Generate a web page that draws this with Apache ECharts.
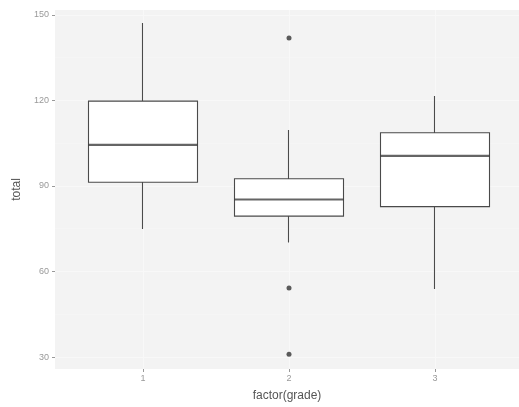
<!DOCTYPE html>
<html>
<head>
<meta charset="utf-8">
<script src="https://cdn.jsdelivr.net/npm/echarts@6/dist/echarts.min.js"></script>
<style>
  html, body { margin: 0; padding: 0; background: #fff; }
  #chart { width: 519px; height: 407px; }
</style>
</head>
<body>
<div id="chart"></div>
<script>
// Grades on the x axis
const grades = ['1', '2', '3'];
// Five-number summaries per grade
const lowerWhisker = [75.5, 70.8, 54.7];
const q1 = [91.8, 80, 83.3];
const median = [104.8, 85.8, 101];
const q3 = [120, 93, 109];
const upperWhisker = [147.2, 110, 121.8];
// Outlying points: [grade index, total]
const outlierGrade = [1, 1, 1];
const outlierTotal = [142, 55, 32];
// Tick labels
const yTicks = [30, 60, 90, 120, 150];
const yMinor = [45, 75, 105, 135];

const Y_MIN = 25.8, Y_MAX = 151.7;
const FONT = 'Liberation Sans';

// boxes drawn as candlesticks: [Q1, Q3, lower whisker, upper whisker]
const boxData = grades.map((g, i) => [q1[i], q3[i], lowerWhisker[i], upperWhisker[i]]);
const outlierData = outlierGrade.map((g, i) => [g, outlierTotal[i]]);
const medianData = grades.map((g, i) => [i, median[i]]);

const chart = echarts.init(document.getElementById('chart'), null, { renderer: 'canvas' });

chart.setOption({
  animation: false,
  backgroundColor: '#ffffff',
  grid: [
    // panel (background, gridlines, axes)
    { left: 55, right: 0, top: 10, bottom: 35, show: true, backgroundColor: '#f3f3f3', borderWidth: 0 },
    // boxes
    { left: 70, right: 11, top: 10, bottom: 35 }
  ],
  xAxis: [
    {
      gridIndex: 0, type: 'value', min: 0.397, max: 3.575,
      name: 'factor(grade)', nameLocation: 'middle', nameGap: 21,
      nameTextStyle: { fontFamily: FONT, fontSize: 12, color: '#555' },
      axisLine: { show: false },
      axisTick: { show: true, length: 3, customValues: [1, 2, 3], lineStyle: { color: '#999', width: 1 } },
      axisLabel: { customValues: [1, 2, 3], formatter: v => grades[Math.round(v) - 1], margin: 5,
        fontFamily: FONT, fontSize: 9, color: '#999' },
      splitLine: { show: true, lineStyle: { color: '#f8f8f8', width: 1 } }
    },
    {
      gridIndex: 1, type: 'category', data: grades, boundaryGap: true,
      axisLine: { show: false }, axisTick: { show: false }, axisLabel: { show: false },
      splitLine: { show: false }
    }
  ],
  yAxis: [
    {
      gridIndex: 0, type: 'value', min: Y_MIN, max: Y_MAX,
      name: 'total', nameLocation: 'middle', nameGap: 30, nameRotate: 90,
      nameTextStyle: { fontFamily: FONT, fontSize: 12, color: '#555' },
      axisLine: { show: false },
      axisTick: { show: true, length: 3, customValues: yTicks, lineStyle: { color: '#999', width: 1 } },
      axisLabel: { customValues: yTicks, margin: 6, fontFamily: FONT, fontSize: 9, color: '#999' },
      splitLine: { show: true, lineStyle: { color: '#f8f8f8', width: 1 } }
    },
    {
      gridIndex: 1, type: 'value', min: Y_MIN, max: Y_MAX,
      axisLine: { show: false }, axisTick: { show: false }, axisLabel: { show: false },
      splitLine: { show: false }
    },
    {
      // minor gridlines
      gridIndex: 0, type: 'value', min: Y_MIN, max: Y_MAX,
      axisLine: { show: false },
      axisTick: { show: false, customValues: yMinor },
      axisLabel: { show: false, customValues: yMinor },
      splitLine: { show: true, lineStyle: { color: '#f6f6f6', width: 0.6 } }
    }
  ],
  series: [
    {
      type: 'candlestick',
      xAxisIndex: 1, yAxisIndex: 1,
      data: boxData,
      barWidth: '75%',
      itemStyle: {
        color: '#ffffff', color0: '#ffffff',
        borderColor: '#4a4a4a', borderColor0: '#4a4a4a', borderWidth: 1.1
      },
      emphasis: { disabled: true }
    },
    {
      // thicker median bar
      type: 'scatter',
      xAxisIndex: 1, yAxisIndex: 1,
      data: medianData,
      symbol: 'rect',
      symbolSize: [110, 2.2],
      itemStyle: { color: '#3f3f3f' },
      z: 5,
      emphasis: { disabled: true }
    },
    {
      type: 'scatter',
      xAxisIndex: 1, yAxisIndex: 1,
      data: outlierData,
      symbol: 'circle',
      symbolSize: 5,
      itemStyle: { color: '#333333' },
      z: 6,
      emphasis: { disabled: true }
    }
  ]
});
</script>
</body>
</html>
